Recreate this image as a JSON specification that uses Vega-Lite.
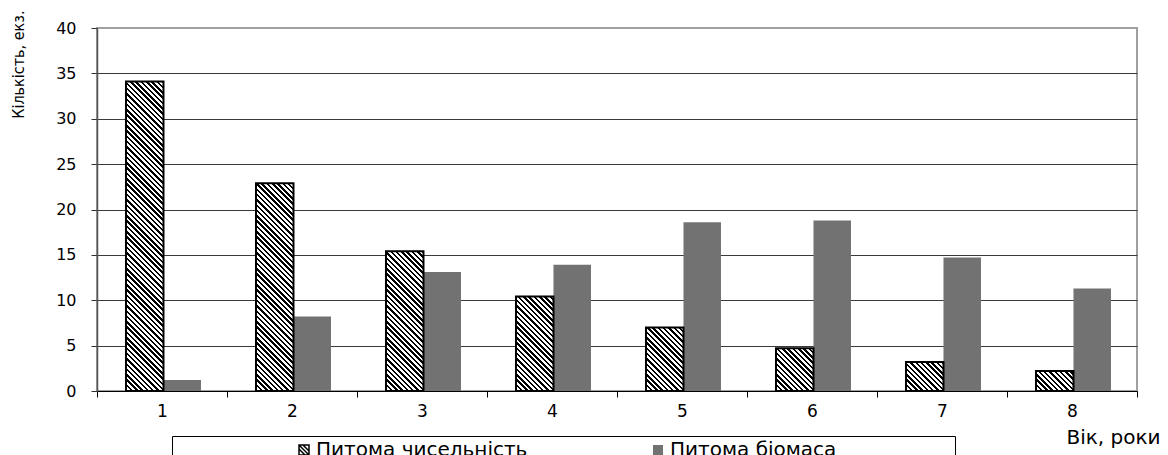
{
  "$schema": "https://vega.github.io/schema/vega-lite/v6.json",
  "width": 1040,
  "height": 363,
  "autosize": {"type": "none"},
  "padding": {"left": 97, "top": 28, "right": 31, "bottom": 64},
  "background": "#ffffff",
  "config": {
    "view": {"stroke": "#a0a0a0", "strokeWidth": 2},
    "font": "DejaVu Sans"
  },
  "params": [
    {
      "name": "hatch",
      "value": [
        {"offset":0,"color":"#000"},{"offset":0.007,"color":"#000"},{"offset":0.007,"color":"#fff"},{"offset":0.015,"color":"#fff"},
        {"offset":0.015,"color":"#000"},{"offset":0.022,"color":"#000"},{"offset":0.022,"color":"#fff"},{"offset":0.03,"color":"#fff"},
        {"offset":0.03,"color":"#000"},{"offset":0.037,"color":"#000"},{"offset":0.037,"color":"#fff"},{"offset":0.045,"color":"#fff"},
        {"offset":0.045,"color":"#000"},{"offset":0.052,"color":"#000"},{"offset":0.052,"color":"#fff"},{"offset":0.06,"color":"#fff"},
        {"offset":0.06,"color":"#000"},{"offset":0.067,"color":"#000"},{"offset":0.067,"color":"#fff"},{"offset":0.075,"color":"#fff"},
        {"offset":0.075,"color":"#000"},{"offset":0.082,"color":"#000"},{"offset":0.082,"color":"#fff"},{"offset":0.09,"color":"#fff"},
        {"offset":0.09,"color":"#000"},{"offset":0.097,"color":"#000"},{"offset":0.097,"color":"#fff"},{"offset":0.105,"color":"#fff"},
        {"offset":0.105,"color":"#000"},{"offset":0.112,"color":"#000"},{"offset":0.112,"color":"#fff"},{"offset":0.12,"color":"#fff"},
        {"offset":0.12,"color":"#000"},{"offset":0.127,"color":"#000"},{"offset":0.127,"color":"#fff"},{"offset":0.135,"color":"#fff"},
        {"offset":0.135,"color":"#000"},{"offset":0.142,"color":"#000"},{"offset":0.142,"color":"#fff"},{"offset":0.15,"color":"#fff"},
        {"offset":0.15,"color":"#000"},{"offset":0.157,"color":"#000"},{"offset":0.157,"color":"#fff"},{"offset":0.165,"color":"#fff"},
        {"offset":0.165,"color":"#000"},{"offset":0.172,"color":"#000"},{"offset":0.172,"color":"#fff"},{"offset":0.18,"color":"#fff"},
        {"offset":0.18,"color":"#000"},{"offset":0.187,"color":"#000"},{"offset":0.187,"color":"#fff"},{"offset":0.195,"color":"#fff"},
        {"offset":0.195,"color":"#000"},{"offset":0.202,"color":"#000"},{"offset":0.202,"color":"#fff"},{"offset":0.21,"color":"#fff"},
        {"offset":0.21,"color":"#000"},{"offset":0.217,"color":"#000"},{"offset":0.217,"color":"#fff"},{"offset":0.225,"color":"#fff"},
        {"offset":0.225,"color":"#000"},{"offset":0.232,"color":"#000"},{"offset":0.232,"color":"#fff"},{"offset":0.24,"color":"#fff"},
        {"offset":0.24,"color":"#000"},{"offset":0.247,"color":"#000"},{"offset":0.247,"color":"#fff"},{"offset":0.255,"color":"#fff"},
        {"offset":0.255,"color":"#000"},{"offset":0.262,"color":"#000"},{"offset":0.262,"color":"#fff"},{"offset":0.27,"color":"#fff"},
        {"offset":0.27,"color":"#000"},{"offset":0.277,"color":"#000"},{"offset":0.277,"color":"#fff"},{"offset":0.285,"color":"#fff"},
        {"offset":0.285,"color":"#000"},{"offset":0.292,"color":"#000"},{"offset":0.292,"color":"#fff"},{"offset":0.3,"color":"#fff"},
        {"offset":0.3,"color":"#000"},{"offset":0.307,"color":"#000"},{"offset":0.307,"color":"#fff"},{"offset":0.315,"color":"#fff"},
        {"offset":0.315,"color":"#000"},{"offset":0.322,"color":"#000"},{"offset":0.322,"color":"#fff"},{"offset":0.33,"color":"#fff"},
        {"offset":0.33,"color":"#000"},{"offset":0.337,"color":"#000"},{"offset":0.337,"color":"#fff"},{"offset":0.345,"color":"#fff"},
        {"offset":0.345,"color":"#000"},{"offset":0.352,"color":"#000"},{"offset":0.352,"color":"#fff"},{"offset":0.36,"color":"#fff"},
        {"offset":0.36,"color":"#000"},{"offset":0.367,"color":"#000"},{"offset":0.367,"color":"#fff"},{"offset":0.375,"color":"#fff"},
        {"offset":0.375,"color":"#000"},{"offset":0.382,"color":"#000"},{"offset":0.382,"color":"#fff"},{"offset":0.39,"color":"#fff"},
        {"offset":0.39,"color":"#000"},{"offset":0.397,"color":"#000"},{"offset":0.397,"color":"#fff"},{"offset":0.405,"color":"#fff"},
        {"offset":0.405,"color":"#000"},{"offset":0.412,"color":"#000"},{"offset":0.412,"color":"#fff"},{"offset":0.42,"color":"#fff"},
        {"offset":0.42,"color":"#000"},{"offset":0.427,"color":"#000"},{"offset":0.427,"color":"#fff"},{"offset":0.435,"color":"#fff"},
        {"offset":0.435,"color":"#000"},{"offset":0.442,"color":"#000"},{"offset":0.442,"color":"#fff"},{"offset":0.45,"color":"#fff"},
        {"offset":0.45,"color":"#000"},{"offset":0.457,"color":"#000"},{"offset":0.457,"color":"#fff"},{"offset":0.465,"color":"#fff"},
        {"offset":0.465,"color":"#000"},{"offset":0.472,"color":"#000"},{"offset":0.472,"color":"#fff"},{"offset":0.48,"color":"#fff"},
        {"offset":0.48,"color":"#000"},{"offset":0.487,"color":"#000"},{"offset":0.487,"color":"#fff"},{"offset":0.495,"color":"#fff"},
        {"offset":0.495,"color":"#000"},{"offset":0.502,"color":"#000"},{"offset":0.502,"color":"#fff"},{"offset":0.51,"color":"#fff"},
        {"offset":0.51,"color":"#000"},{"offset":0.517,"color":"#000"},{"offset":0.517,"color":"#fff"},{"offset":0.525,"color":"#fff"},
        {"offset":0.525,"color":"#000"},{"offset":0.532,"color":"#000"},{"offset":0.532,"color":"#fff"},{"offset":0.54,"color":"#fff"},
        {"offset":0.54,"color":"#000"},{"offset":0.547,"color":"#000"},{"offset":0.547,"color":"#fff"},{"offset":0.555,"color":"#fff"},
        {"offset":0.555,"color":"#000"},{"offset":0.562,"color":"#000"},{"offset":0.562,"color":"#fff"},{"offset":0.57,"color":"#fff"},
        {"offset":0.57,"color":"#000"},{"offset":0.577,"color":"#000"},{"offset":0.577,"color":"#fff"},{"offset":0.585,"color":"#fff"},
        {"offset":0.585,"color":"#000"},{"offset":0.592,"color":"#000"},{"offset":0.592,"color":"#fff"},{"offset":0.6,"color":"#fff"},
        {"offset":0.6,"color":"#000"},{"offset":0.607,"color":"#000"},{"offset":0.607,"color":"#fff"},{"offset":0.615,"color":"#fff"},
        {"offset":0.615,"color":"#000"},{"offset":0.622,"color":"#000"},{"offset":0.622,"color":"#fff"},{"offset":0.63,"color":"#fff"},
        {"offset":0.63,"color":"#000"},{"offset":0.637,"color":"#000"},{"offset":0.637,"color":"#fff"},{"offset":0.645,"color":"#fff"},
        {"offset":0.645,"color":"#000"},{"offset":0.652,"color":"#000"},{"offset":0.652,"color":"#fff"},{"offset":0.66,"color":"#fff"},
        {"offset":0.66,"color":"#000"},{"offset":0.667,"color":"#000"},{"offset":0.667,"color":"#fff"},{"offset":0.675,"color":"#fff"},
        {"offset":0.675,"color":"#000"},{"offset":0.682,"color":"#000"},{"offset":0.682,"color":"#fff"},{"offset":0.69,"color":"#fff"},
        {"offset":0.69,"color":"#000"},{"offset":0.697,"color":"#000"},{"offset":0.697,"color":"#fff"},{"offset":0.705,"color":"#fff"},
        {"offset":0.705,"color":"#000"},{"offset":0.712,"color":"#000"},{"offset":0.712,"color":"#fff"},{"offset":0.72,"color":"#fff"},
        {"offset":0.72,"color":"#000"},{"offset":0.727,"color":"#000"},{"offset":0.727,"color":"#fff"},{"offset":0.735,"color":"#fff"},
        {"offset":0.735,"color":"#000"},{"offset":0.742,"color":"#000"},{"offset":0.742,"color":"#fff"},{"offset":0.75,"color":"#fff"},
        {"offset":0.75,"color":"#000"},{"offset":0.757,"color":"#000"},{"offset":0.757,"color":"#fff"},{"offset":0.765,"color":"#fff"},
        {"offset":0.765,"color":"#000"},{"offset":0.772,"color":"#000"},{"offset":0.772,"color":"#fff"},{"offset":0.78,"color":"#fff"},
        {"offset":0.78,"color":"#000"},{"offset":0.787,"color":"#000"},{"offset":0.787,"color":"#fff"},{"offset":0.795,"color":"#fff"},
        {"offset":0.795,"color":"#000"},{"offset":0.802,"color":"#000"},{"offset":0.802,"color":"#fff"},{"offset":0.81,"color":"#fff"},
        {"offset":0.81,"color":"#000"},{"offset":0.817,"color":"#000"},{"offset":0.817,"color":"#fff"},{"offset":0.825,"color":"#fff"},
        {"offset":0.825,"color":"#000"},{"offset":0.832,"color":"#000"},{"offset":0.832,"color":"#fff"},{"offset":0.84,"color":"#fff"},
        {"offset":0.84,"color":"#000"},{"offset":0.847,"color":"#000"},{"offset":0.847,"color":"#fff"},{"offset":0.855,"color":"#fff"},
        {"offset":0.855,"color":"#000"},{"offset":0.862,"color":"#000"},{"offset":0.862,"color":"#fff"},{"offset":0.87,"color":"#fff"},
        {"offset":0.87,"color":"#000"},{"offset":0.877,"color":"#000"},{"offset":0.877,"color":"#fff"},{"offset":0.885,"color":"#fff"},
        {"offset":0.885,"color":"#000"},{"offset":0.892,"color":"#000"},{"offset":0.892,"color":"#fff"},{"offset":0.9,"color":"#fff"},
        {"offset":0.9,"color":"#000"},{"offset":0.907,"color":"#000"},{"offset":0.907,"color":"#fff"},{"offset":0.915,"color":"#fff"},
        {"offset":0.915,"color":"#000"},{"offset":0.922,"color":"#000"},{"offset":0.922,"color":"#fff"},{"offset":0.93,"color":"#fff"},
        {"offset":0.93,"color":"#000"},{"offset":0.937,"color":"#000"},{"offset":0.937,"color":"#fff"},{"offset":0.945,"color":"#fff"},
        {"offset":0.945,"color":"#000"},{"offset":0.952,"color":"#000"},{"offset":0.952,"color":"#fff"},{"offset":0.96,"color":"#fff"},
        {"offset":0.96,"color":"#000"},{"offset":0.967,"color":"#000"},{"offset":0.967,"color":"#fff"},{"offset":0.975,"color":"#fff"},
        {"offset":0.975,"color":"#000"},{"offset":0.982,"color":"#000"},{"offset":0.982,"color":"#fff"},{"offset":0.99,"color":"#fff"},
        {"offset":0.99,"color":"#000"},{"offset":0.997,"color":"#000"},{"offset":0.997,"color":"#fff"},{"offset":1,"color":"#fff"}
      ]
    }
  ],
  "data": {
    "values": [
      {"age": 1, "series": "Питома чисельність", "value": 34.1},
      {"age": 2, "series": "Питома чисельність", "value": 22.9},
      {"age": 3, "series": "Питома чисельність", "value": 15.4},
      {"age": 4, "series": "Питома чисельність", "value": 10.4},
      {"age": 5, "series": "Питома чисельність", "value": 7.0},
      {"age": 6, "series": "Питома чисельність", "value": 4.7},
      {"age": 7, "series": "Питома чисельність", "value": 3.2},
      {"age": 8, "series": "Питома чисельність", "value": 2.2},
      {"age": 1, "series": "Питома біомаса", "value": 1.2},
      {"age": 2, "series": "Питома біомаса", "value": 8.2},
      {"age": 3, "series": "Питома біомаса", "value": 13.1},
      {"age": 4, "series": "Питома біомаса", "value": 13.9},
      {"age": 5, "series": "Питома біомаса", "value": 18.6},
      {"age": 6, "series": "Питома біомаса", "value": 18.8},
      {"age": 7, "series": "Питома біомаса", "value": 14.7},
      {"age": 8, "series": "Питома біомаса", "value": 11.3}
    ]
  },
  "encoding": {
    "x": {
      "field": "age",
      "type": "ordinal",
      "scale": {"paddingInner": 0, "paddingOuter": 0},
      "axis": {
        "title": "Вік, роки",
        "labelAngle": 0,
        "tickBand": "extent",
        "grid": false,
        "domainColor": "#000",
        "domainWidth": 1,
        "tickColor": "#000",
        "tickSize": 6,
        "labelFont": "DejaVu Sans",
        "labelFontSize": 17,
        "labelColor": "#000",
        "labelPadding": 6,
        "titleFont": "DejaVu Sans",
        "titleFontSize": 20,
        "titleFontWeight": "normal",
        "titleColor": "#000",
        "titleAnchor": "end",
        "titleAlign": "right",
        "titleBaseline": "middle",
        "titleX": 1063,
        "titleY": 46
      }
    },
    "xOffset": {
      "field": "series",
      "type": "nominal",
      "scale": {
        "domain": ["Питома чисельність", "Питома біомаса"],
        "paddingInner": 0,
        "paddingOuter": 0.7333,
        "align": 0.527
      }
    },
    "y": {
      "field": "value",
      "type": "quantitative",
      "scale": {"domain": [0, 40], "nice": false},
      "axis": {
        "values": [0, 5, 10, 15, 20, 25, 30, 35, 40],
        "title": "Кількість, екз.",
        "titleFont": "DejaVu Sans Condensed, Roboto Condensed, Liberation Sans",
        "titleFontSize": 16,
        "titleFontWeight": "normal",
        "titleColor": "#000",
        "titleAngle": -90,
        "titleAlign": "right",
        "titleBaseline": "middle",
        "titleAnchor": "end",
        "titleX": -79,
        "titleY": -18,
        "labelFont": "DejaVu Sans",
        "labelFontSize": 16,
        "labelColor": "#000",
        "labelPadding": 15,
        "tickSize": 6,
        "tickColor": "#333",
        "domainColor": "#555",
        "domainWidth": 1.5,
        "grid": true,
        "gridColor": {"condition": {"test": "datum.value === 40", "value": "#a0a0a0"}, "value": "#3a3a3a"},
        "gridWidth": 1
      }
    }
  },
  "layer": [
    {
      "mark": {"type": "bar"},
      "encoding": {
        "color": {
          "field": "series",
          "type": "nominal",
          "scale": {
            "domain": ["Питома чисельність", "Питома біомаса"],
            "range": ["#ffffff", "#727272"]
          },
          "legend": {
            "orient": "none",
            "legendX": 75,
            "legendY": 408,
            "direction": "horizontal",
            "title": " ",
            "titleOrient": "right",
            "titlePadding": 115,
            "titleFontSize": 11,
            "padding": 4,
            "fillColor": "#ffffff",
            "strokeColor": "#000000",
            "labelFont": "DejaVu Sans",
            "labelFontSize": 20,
            "labelColor": "#000",
            "symbolOffset": 118,
            "labelOffset": 2,
            "labelLimit": 500,
            "columnPadding": 2,
            "symbolSize": 100,
            "encode": {
              "symbols": {
                "update": {
                  "shape": [
                    {"test": "datum.value == 'Питома чисельність'", "value": "M-1,-1H1V1H-1Z M-1,-0.2L0.2,1 M-1,-1L1,1 M-0.2,-1L1,0.2"},
                    {"value": "square"}
                  ],
                  "stroke": [
                    {"test": "datum.value == 'Питома чисельність'", "value": "#000"},
                    {"value": "transparent"}
                  ],
                  "strokeWidth": {"value": 1.5}
                }
              }
            }
          }
        }
      }
    },
    {
      "transform": [{"filter": "datum.series == 'Питома чисельність' && datum.age == 1"}],
      "mark": {"type": "bar", "stroke": "#000", "strokeWidth": 2, "fill": {"expr": "{gradient: 'linear', x1: 0, y1: 1, x2: 0.13634, y2: -0.12515, stops: hatch}"}}
    },
    {
      "transform": [{"filter": "datum.series == 'Питома чисельність' && datum.age == 2"}],
      "mark": {"type": "bar", "stroke": "#000", "strokeWidth": 2, "fill": {"expr": "{gradient: 'linear', x1: 0, y1: 1, x2: 0.29709, y2: -0.64643, stops: hatch}"}}
    },
    {
      "transform": [{"filter": "datum.series == 'Питома чисельність' && datum.age == 3"}],
      "mark": {"type": "bar", "stroke": "#000", "strokeWidth": 2, "fill": {"expr": "{gradient: 'linear', x1: 0, y1: 1, x2: 0.63277, y2: -1.35823, stops: hatch}"}}
    },
    {
      "transform": [{"filter": "datum.series == 'Питома чисельність' && datum.age == 4"}],
      "mark": {"type": "bar", "stroke": "#000", "strokeWidth": 2, "fill": {"expr": "{gradient: 'linear', x1: 0, y1: 1, x2: 1.28456, y2: -2.23299, stops: hatch}"}}
    },
    {
      "transform": [{"filter": "datum.series == 'Питома чисельність' && datum.age == 5"}],
      "mark": {"type": "bar", "stroke": "#000", "strokeWidth": 2, "fill": {"expr": "{gradient: 'linear', x1: 0, y1: 1, x2: 2.43469, y2: -3.12436, stops: hatch}"}}
    },
    {
      "transform": [{"filter": "datum.series == 'Питома чисельність' && datum.age == 6"}],
      "mark": {"type": "bar", "stroke": "#000", "strokeWidth": 2, "fill": {"expr": "{gradient: 'linear', x1: 0, y1: 1, x2: 4.10753, y2: -3.6719, stops: hatch}"}}
    },
    {
      "transform": [{"filter": "datum.series == 'Питома чисельність' && datum.age == 7"}],
      "mark": {"type": "bar", "stroke": "#000", "strokeWidth": 2, "fill": {"expr": "{gradient: 'linear', x1: 0, y1: 1, x2: 5.88938, y2: -3.56073, stops: hatch}"}}
    },
    {
      "transform": [{"filter": "datum.series == 'Питома чисельність' && datum.age == 8"}],
      "mark": {"type": "bar", "stroke": "#000", "strokeWidth": 2, "fill": {"expr": "{gradient: 'linear', x1: 0, y1: 1, x2: 7.34044, y2: -2.90805, stops: hatch}"}}
    }
  ]
}
